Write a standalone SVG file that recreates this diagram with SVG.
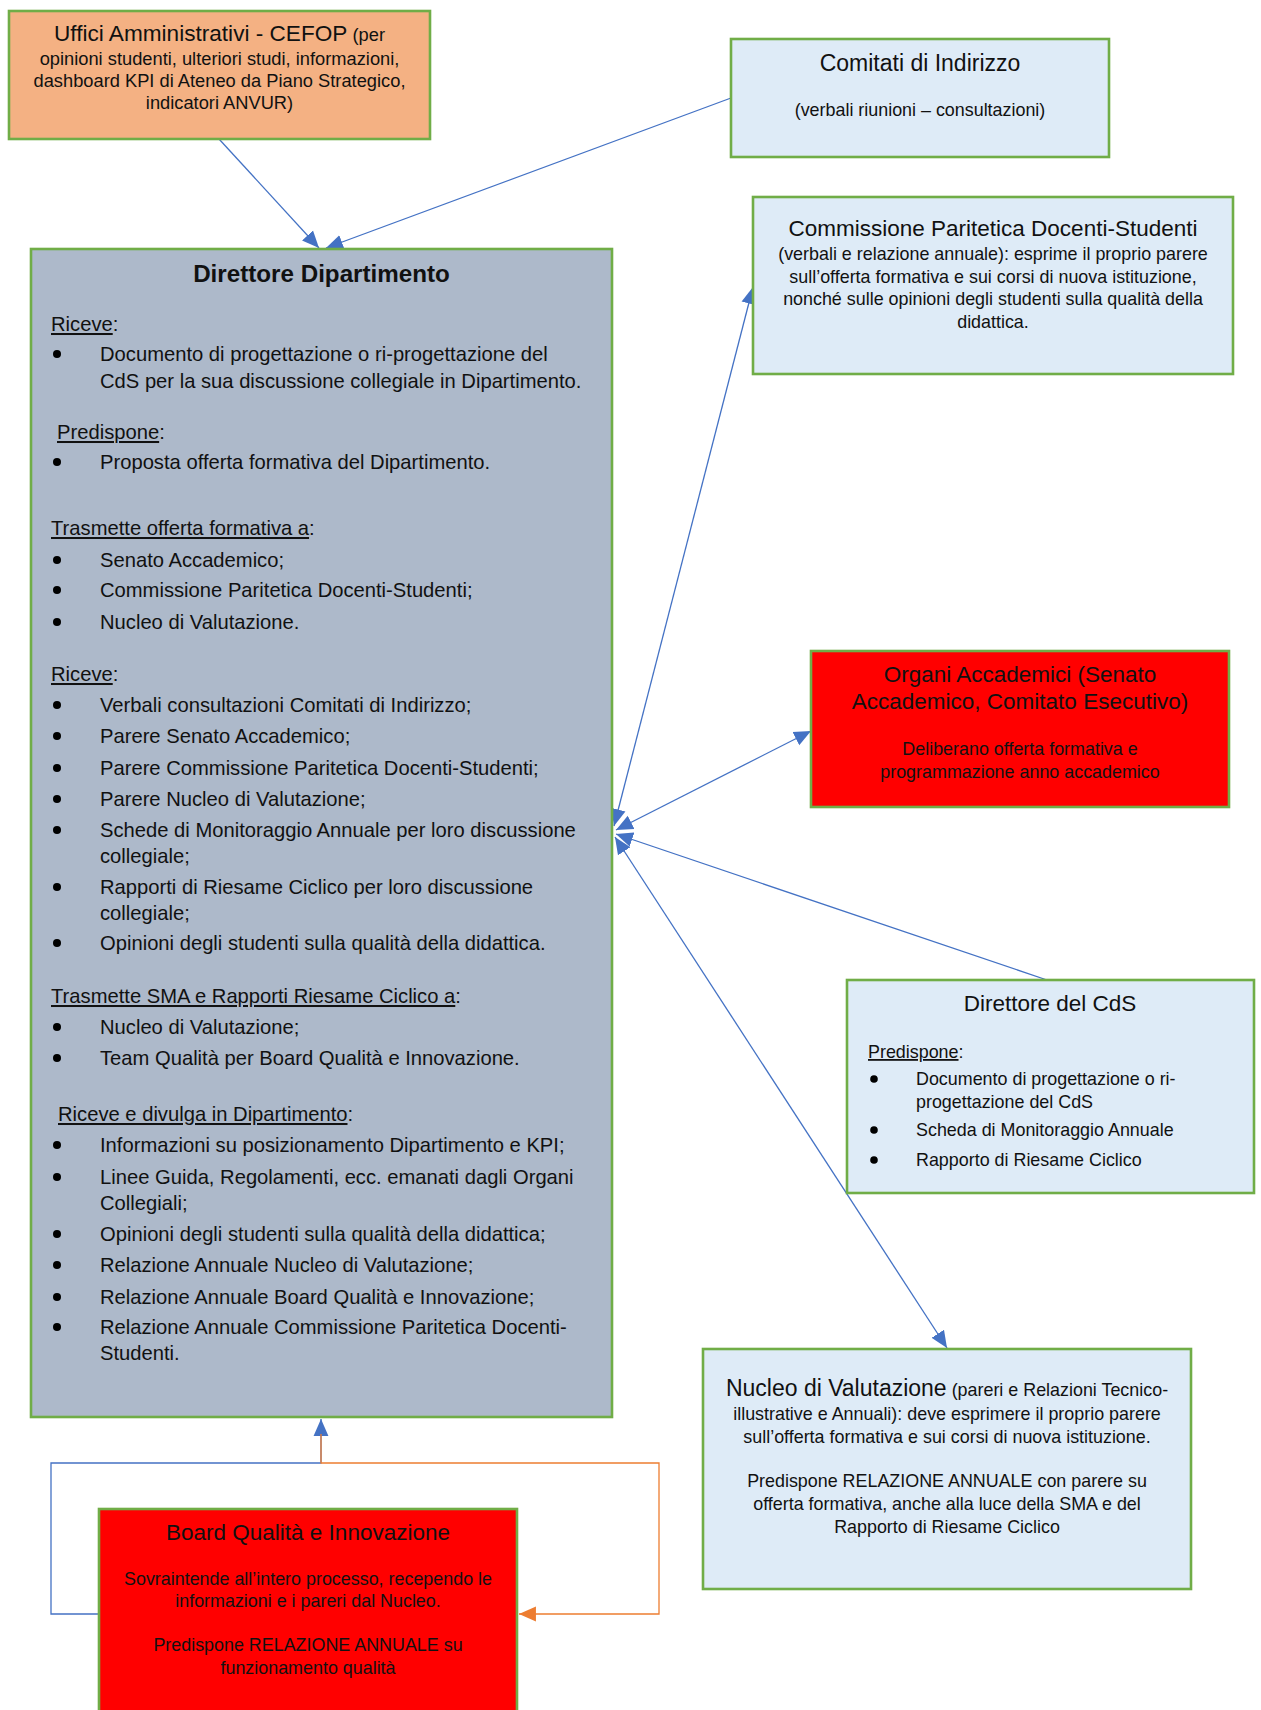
<svg xmlns="http://www.w3.org/2000/svg" width="1261" height="1710" viewBox="0 0 1261 1710">
<style>
.box{stroke:#70AD47;stroke-width:2.6}
.t{font-family:"Liberation Sans",Arial,sans-serif;fill:#111}
.ttl{font-size:22.5px}
.b{font-size:17.9px}
.dd{font-size:20.2px}
.c{text-anchor:middle}
.u{text-decoration:underline}
.blue{stroke:#4472C4;stroke-width:1.3;fill:none}
.orange{stroke:#ED7D31;stroke-width:1.3;fill:none}
.dot{fill:#000}
</style>
<defs>
<marker id="ab" markerUnits="userSpaceOnUse" markerWidth="18" markerHeight="16" refX="16" refY="7" orient="auto-start-reverse" viewBox="0 0 17 14"><path d="M0,0 L16,7 L0,14 Z" fill="#4472C4"/></marker>
<marker id="ao" markerUnits="userSpaceOnUse" markerWidth="18" markerHeight="16" refX="16" refY="7" orient="auto" viewBox="0 0 17 14"><path d="M0,0 L16,7 L0,14 Z" fill="#ED7D31"/></marker>
</defs>
<rect width="1261" height="1710" fill="#fff"/>

<g id="connectors">
<path class="blue" d="M219,139 L319,248" marker-end="url(#ab)"/>
<path class="blue" d="M731,98 L326,248" marker-end="url(#ab)"/>
<path class="blue" d="M614,826 L753,287" marker-start="url(#ab)" marker-end="url(#ab)"/>
<path class="blue" d="M616,830 L811,731" marker-start="url(#ab)" marker-end="url(#ab)"/>
<path class="blue" d="M1047,980 L616,834" marker-end="url(#ab)"/>
<path class="blue" d="M615,837 L947,1348" marker-start="url(#ab)" marker-end="url(#ab)"/>
<path class="blue" d="M99,1614 L51,1614 L51,1463 L321,1463 L321,1419" marker-end="url(#ab)"/>
<path class="orange" d="M321,1434 L321,1463 L659,1463 L659,1614 L519,1614" marker-end="url(#ao)"/>
</g>

<g id="uffici">
<rect class="box" x="9" y="11" width="421" height="128" fill="#F4B183"/>
<text class="t c" font-size="18.3px" x="219.5" y="41"><tspan font-size="22.6px">Uffici Amministrativi - CEFOP</tspan> (per</text>
<text class="t c" font-size="18.3px" x="219.5" y="65">opinioni studenti, ulteriori studi, informazioni,</text>
<text class="t c" font-size="18.3px" x="219.5" y="87">dashboard KPI di Ateneo da Piano Strategico,</text>
<text class="t c" font-size="18.3px" x="219.5" y="109">indicatori ANVUR)</text>
</g>

<g id="comitati">
<rect class="box" x="731" y="39" width="378" height="118" fill="#DEEBF7"/>
<text class="t c" font-size="23px" x="920" y="71">Comitati di Indirizzo</text>
<text class="t c b" x="920" y="116">(verbali riunioni – consultazioni)</text>
</g>

<g id="commissione">
<rect class="box" x="753" y="197" width="480" height="177" fill="#DEEBF7"/>
<text class="t c ttl" x="993" y="236">Commissione Paritetica Docenti-Studenti</text>
<text class="t c b" x="993" y="260">(verbali e relazione annuale): esprime il proprio parere</text>
<text class="t c b" x="993" y="283">sull’offerta formativa e sui corsi di nuova istituzione,</text>
<text class="t c b" x="993" y="305">nonché sulle opinioni degli studenti sulla qualità della</text>
<text class="t c b" x="993" y="328">didattica.</text>
</g>

<g id="organi">
<rect class="box" x="811" y="651" width="418" height="156" fill="#FF0000"/>
<text class="t c ttl" x="1020" y="682">Organi Accademici (Senato</text>
<text class="t c ttl" x="1020" y="709">Accademico, Comitato Esecutivo)</text>
<text class="t c b" x="1020" y="755">Deliberano offerta formativa e</text>
<text class="t c b" x="1020" y="778">programmazione anno accademico</text>
</g>

<g id="direttore-cds">
<rect class="box" x="847" y="980" width="407" height="213" fill="#DEEBF7"/>
<text class="t c ttl" x="1050" y="1011">Direttore del CdS</text>
<text class="t b" x="868" y="1058"><tspan class="u">Predispone</tspan>:</text>
<circle class="dot" cx="874" cy="1079" r="3.8"/>
<text class="t b" x="916" y="1085">Documento di progettazione o ri-</text>
<text class="t b" x="916" y="1108">progettazione del CdS</text>
<circle class="dot" cx="874" cy="1130" r="3.8"/>
<text class="t b" x="916" y="1136">Scheda di Monitoraggio Annuale</text>
<circle class="dot" cx="874" cy="1160" r="3.8"/>
<text class="t b" x="916" y="1166">Rapporto di Riesame Ciclico</text>
</g>

<g id="nucleo">
<rect class="box" x="703" y="1349" width="488" height="240" fill="#DEEBF7"/>
<text class="t c b" x="947" y="1396"><tspan font-size="23px">Nucleo di Valutazione</tspan> (pareri e Relazioni Tecnico-</text>
<text class="t c b" x="947" y="1420">illustrative e Annuali): deve esprimere il proprio parere</text>
<text class="t c b" x="947" y="1443">sull’offerta formativa e sui corsi di nuova istituzione.</text>
<text class="t c b" x="947" y="1487">Predispone RELAZIONE ANNUALE con parere su</text>
<text class="t c b" x="947" y="1510">offerta formativa, anche alla luce della SMA e del</text>
<text class="t c b" x="947" y="1533">Rapporto di Riesame Ciclico</text>
</g>

<g id="board">
<rect class="box" x="99" y="1509" width="418" height="210" fill="#FF0000"/>
<text class="t c ttl" x="308" y="1540">Board Qualità e Innovazione</text>
<text class="t c b" x="308" y="1585">Sovraintende all’intero processo, recependo le</text>
<text class="t c b" x="308" y="1607">informazioni e i pareri dal Nucleo.</text>
<text class="t c b" x="308" y="1651">Predispone RELAZIONE ANNUALE su</text>
<text class="t c b" x="308" y="1674">funzionamento qualità</text>
</g>

<g id="direttore-dipartimento">
<rect class="box" x="31" y="249" width="581" height="1168" fill="#ADB9CA"/>
<text class="t c" x="321.5" y="282" font-size="24.2px" font-weight="bold">Direttore Dipartimento</text>
<text class="t dd" x="51" y="331"><tspan class="u">Riceve</tspan>:</text>
<circle class="dot" cx="57" cy="354" r="4"/>
<text class="t dd" x="100" y="361">Documento di progettazione o ri-progettazione del</text>
<text class="t dd" x="100" y="388">CdS per la sua discussione collegiale in Dipartimento.</text>
<text class="t dd" x="57" y="439"><tspan class="u">Predispone</tspan>:</text>
<circle class="dot" cx="57" cy="462" r="4"/>
<text class="t dd" x="100" y="469">Proposta offerta formativa del Dipartimento.</text>
<text class="t dd" x="51" y="535"><tspan class="u">Trasmette offerta formativa a</tspan>:</text>
<circle class="dot" cx="57" cy="560" r="4"/>
<text class="t dd" x="100" y="567">Senato Accademico;</text>
<circle class="dot" cx="57" cy="590" r="4"/>
<text class="t dd" x="100" y="597">Commissione Paritetica Docenti-Studenti;</text>
<circle class="dot" cx="57" cy="622" r="4"/>
<text class="t dd" x="100" y="629">Nucleo di Valutazione.</text>
<text class="t dd" x="51" y="681"><tspan class="u">Riceve</tspan>:</text>
<circle class="dot" cx="57" cy="705" r="4"/>
<text class="t dd" x="100" y="712">Verbali consultazioni Comitati di Indirizzo;</text>
<circle class="dot" cx="57" cy="736" r="4"/>
<text class="t dd" x="100" y="743">Parere Senato Accademico;</text>
<circle class="dot" cx="57" cy="768" r="4"/>
<text class="t dd" x="100" y="775">Parere Commissione Paritetica Docenti-Studenti;</text>
<circle class="dot" cx="57" cy="799" r="4"/>
<text class="t dd" x="100" y="806">Parere Nucleo di Valutazione;</text>
<circle class="dot" cx="57" cy="830" r="4"/>
<text class="t dd" x="100" y="837">Schede di Monitoraggio Annuale per loro discussione</text>
<text class="t dd" x="100" y="863">collegiale;</text>
<circle class="dot" cx="57" cy="887" r="4"/>
<text class="t dd" x="100" y="894">Rapporti di Riesame Ciclico per loro discussione</text>
<text class="t dd" x="100" y="920">collegiale;</text>
<circle class="dot" cx="57" cy="943" r="4"/>
<text class="t dd" x="100" y="950">Opinioni degli studenti sulla qualità della didattica.</text>
<text class="t dd" x="51" y="1003"><tspan class="u">Trasmette SMA e Rapporti Riesame Ciclico a</tspan>:</text>
<circle class="dot" cx="57" cy="1027" r="4"/>
<text class="t dd" x="100" y="1034">Nucleo di Valutazione;</text>
<circle class="dot" cx="57" cy="1058" r="4"/>
<text class="t dd" x="100" y="1065">Team Qualità per Board Qualità e Innovazione.</text>
<text class="t dd" x="58" y="1121"><tspan class="u">Riceve e divulga in Dipartimento</tspan>:</text>
<circle class="dot" cx="57" cy="1145" r="4"/>
<text class="t dd" x="100" y="1152">Informazioni su posizionamento Dipartimento e KPI;</text>
<circle class="dot" cx="57" cy="1177" r="4"/>
<text class="t dd" x="100" y="1184">Linee Guida, Regolamenti, ecc. emanati dagli Organi</text>
<text class="t dd" x="100" y="1210">Collegiali;</text>
<circle class="dot" cx="57" cy="1234" r="4"/>
<text class="t dd" x="100" y="1241">Opinioni degli studenti sulla qualità della didattica;</text>
<circle class="dot" cx="57" cy="1265" r="4"/>
<text class="t dd" x="100" y="1272">Relazione Annuale Nucleo di Valutazione;</text>
<circle class="dot" cx="57" cy="1297" r="4"/>
<text class="t dd" x="100" y="1304">Relazione Annuale Board Qualità e Innovazione;</text>
<circle class="dot" cx="57" cy="1327" r="4"/>
<text class="t dd" x="100" y="1334">Relazione Annuale Commissione Paritetica Docenti-</text>
<text class="t dd" x="100" y="1360">Studenti.</text>
</g>
</svg>
